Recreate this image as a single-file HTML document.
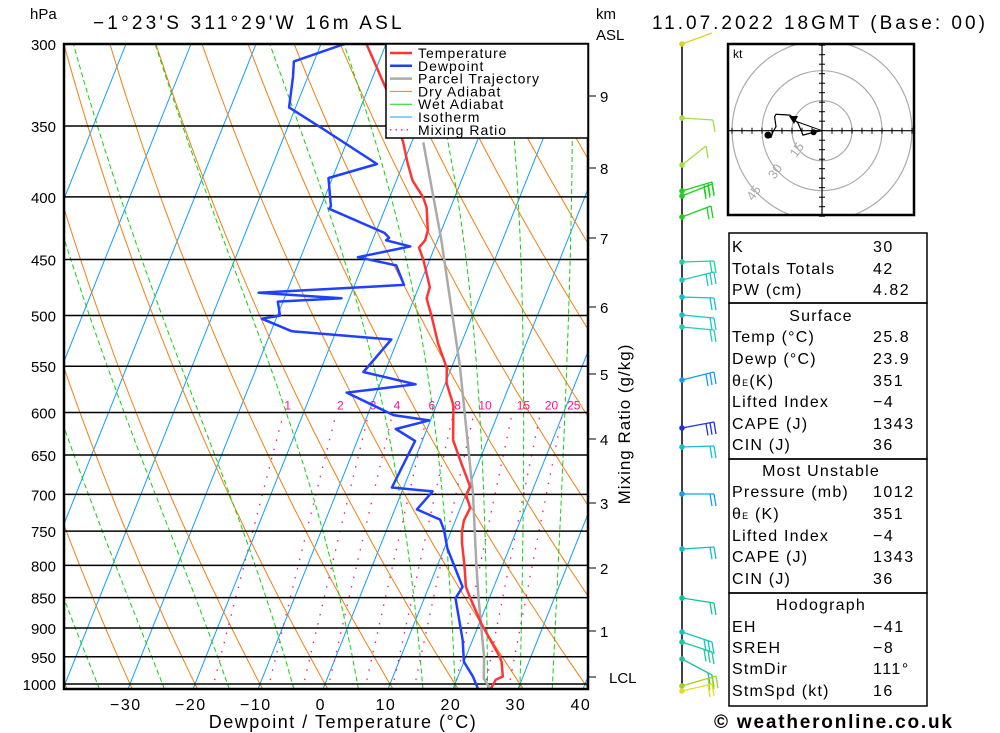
<!DOCTYPE html>
<html><head><meta charset="utf-8"><style>
html,body{margin:0;padding:0;background:#fff}
svg{display:block;font-family:"Liberation Sans",sans-serif}
</style></head><body>
<svg id="chart" xmlns="http://www.w3.org/2000/svg" width="1000" height="733" viewBox="0 0 1000 733">
<defs><clipPath id="plotclip"><rect x="64" y="44" width="524" height="645"/></clipPath>
<clipPath id="hodoclip"><rect x="728" y="44" width="186" height="171"/></clipPath></defs>
<rect width="1000" height="733" fill="#fff"/>
<g id="grid" clip-path="url(#plotclip)"></g>
<g id="profiles" clip-path="url(#plotclip)"></g>
<g id="axes"></g>
<text x="30" y="19" font-size="15">hPa</text>
<text x="93" y="29" font-size="19" letter-spacing="3.2">−1°23'S 311°29'W 16m ASL</text>
<text x="596" y="19" font-size="15">km</text>
<text x="596" y="40" font-size="15">ASL</text>
<text x="652" y="29" font-size="19" letter-spacing="3">11.07.2022 18GMT (Base: 00)</text>
<text x="343" y="728" font-size="18" text-anchor="middle" letter-spacing="1.5">Dewpoint / Temperature (°C)</text>
<text transform="translate(630,424) rotate(-90)" font-size="17" text-anchor="middle" letter-spacing="1">Mixing Ratio (g/kg)</text>
<g id="legend">
<rect x="386" y="44" width="202" height="94" fill="#fff" stroke="#000" stroke-width="1.5"/>
</g>
<g id="barbs"></g>
<g id="hodo"></g>
<g id="tables"></g>
<text x="714" y="728" font-size="19" font-weight="bold" letter-spacing="1.8">© weatheronline.co.uk</text>
</svg>
<script>
// ---- data ----
const pressureTicks=[300,350,400,450,500,550,600,650,700,750,800,850,900,950,1000];
const tempTicks=[-30,-20,-10,0,10,20,30,40];
const kmTicks=[1,2,3,4,5,6,7,8,9];
const kmY=[631,568,503,439,374,307,238,168,96];
const mixRatios=[1,2,3,4,6,8,10,15,20,25];
const tempP=[300,327,361,375,388,400,408,426,434,440,450,474,484,501,527,552,568,592,632,656,690,701,718,735,751,767,799,833,851,892,950,959,986,992,1010];
const tempT=[-33,-27.1,-21.3,-19.4,-17.5,-14.9,-13.7,-12.1,-11.9,-12.4,-11,-8.3,-8.1,-6.2,-3.55,-0.7,0.2,2.6,4.7,7,10.2,10.1,11.5,11.3,11.7,12.4,14.1,15.7,17.1,20.3,25.2,25.8,26.9,26,25.8];
const dewP=[300,310,319,338,351,376,386,407,409,428,432,434,439,448,455,472,479,484,487,500,503,515,523,556,569,578,603,609,619,633,691,696,720,734,748,775,833,851,921,959,986,1010];
const dewT=[-36.4,-43.1,-42.3,-41,-34.9,-24,-30.6,-28.5,-28.6,-18.6,-17.6,-17.9,-13.8,-21.2,-14.8,-12.4,-34.3,-21.2,-30.8,-29.6,-32.2,-26.8,-11,-13.3,-4.5,-14.6,-6,-0.2,-4.8,-1.1,-1.8,4.7,3.4,7.6,8.8,10.5,15.2,14.8,18.5,20,22.3,23.9];
const parcelP=[1010,990,950,900,850,800,700,550,434,361];
const parcelT=[25.8,24.1,22.8,20.6,18.3,16,11.1,1.2,-9.4,-18.2];
const hodoU=[0,-4.2,-9.5,-10.2,-12,-13.5,-16,-23,-23.7,-23,-24.5,-25.5,-27];
const hodoV=[0,-0.8,-2.2,-0.5,3.8,5.3,7.8,8.2,7,2,-0.5,-3.3,-2.2];
// ---- scales ----
const X0=325,PX=6.5,SK=0.4,Y1000=684,KY=531.6;
function yP(p){return 44+Math.log(p/300)*KY;}
function xT(T,p){return X0+PX*T+SK*(Y1000-yP(p));}
const NS="http://www.w3.org/2000/svg";
function mk(parent,tag,attrs){const e=document.createElementNS(NS,tag);for(const k in attrs)e.setAttribute(k,attrs[k]);parent.appendChild(e);return e;}
function pts(arr){return arr.map(a=>a[0].toFixed(1)+","+a[1].toFixed(1)).join(" ");}
const grid=document.getElementById('grid'),prof=document.getElementById('profiles'),axes=document.getElementById('axes');
for(let T=-120;T<=40;T+=10){
 const l=mk(grid,'line',{x1:xT(T,1010),y1:yP(1010),x2:xT(T,300),y2:yP(300),stroke:'#10a0ff','stroke-width':1});
 
 
}
for(let th=-40;th<=160;th+=10){
 const a=[];for(let p=1010;p>=300;p-=10){const T=(th+273.15)*Math.pow(p/1000,0.286)-273.15;a.push([xT(T,p),yP(p)]);}
 const l=mk(grid,'polyline',{points:pts(a),fill:'none',stroke:'#f08010','stroke-width':1});
 
 
}
function es(T){return 6.112*Math.exp(17.67*T/(T+243.5));}
function ws(T,p){const e=es(T);return 0.622*e/(p-e);}
const wetStarts=[-35,-25,-15,-5,5,15,20,25,30,35];
wetStarts.forEach(T0=>{
 let T=T0,a=[];
 for(let p=1000;p<1010;p+=1){const Tk=T+273.15,r=ws(T,p);const d=(287*Tk+2.5e6*r)/(1004+2.5e6*2.5e6*r*0.622/(287*Tk*Tk))/p;T+=d;}
 for(let p=1010;p>=300;p-=2){a.push([xT(T,p),yP(p)]);const Tk=T+273.15,r=ws(T,p);const d=(287*Tk+2.5e6*r)/(1004+2.5e6*2.5e6*r*0.622/(287*Tk*Tk))/p;T-=d*2;}
 const l=mk(grid,'polyline',{points:pts(a),fill:'none',stroke:'#10d010','stroke-width':1,'stroke-dasharray':'5,3'});
 
 
});
function tdFromW(w,p){const e=w*p/(622+w);const L=Math.log(e/6.112);return 243.5*L/(17.67-L);}
mixRatios.forEach(w=>{
 const a=[];for(let p=1010;p>=600;p-=10)a.push([xT(tdFromW(w,p),p),yP(p)]);
 const l=mk(grid,'polyline',{points:pts(a),fill:'none',stroke:'#ff1090','stroke-width':1.3,'stroke-dasharray':'1.5,8'});
 
 
 const t=mk(grid,'text',{x:xT(tdFromW(w,600),600)+(w>=10?11:4),y:yP(600)-3,'font-size':12,fill:'#ff1090','text-anchor':'middle'});
 t.textContent=w;
 
 
});
pressureTicks.forEach(p=>{
 const l=mk(grid,'line',{x1:64,x2:588,y1:yP(p),y2:yP(p),stroke:'#000','stroke-width':1.5});
 
 
 const t=mk(axes,'text',{x:56,y:yP(p)+6,'font-size':15,'text-anchor':'end'});
 t.textContent=p;
 
 
});
tempTicks.forEach(T=>{
 const t=mk(axes,'text',{x:xT(T,1010)-2,y:710,'font-size':16,'text-anchor':'middle','letter-spacing':1.5});
 t.textContent=(T<0?'−':'')+Math.abs(T);
 
 
});
kmTicks.forEach((k,i)=>{
 mk(axes,'line',{x1:588,x2:596,y1:kmY[i],y2:kmY[i],stroke:'#000','stroke-width':1});
 const t=mk(axes,'text',{x:600,y:kmY[i]+6,'font-size':15});
 t.textContent=k;
 
 
});
mk(axes,'line',{x1:588,x2:596,y1:677,y2:677,stroke:'#000'});
const lcl=mk(axes,'text',{x:609,y:683,'font-size':15});lcl.textContent='LCL';


function prof_line(P,T,color,name){
 const l=mk(prof,'polyline',{points:pts(P.map((p,i)=>[xT(T[i],p),yP(p)])),fill:'none',stroke:color,'stroke-width':2.5,'stroke-linejoin':'round'});
 
 
}
prof_line(parcelP,parcelT,'#aaaaaa','parcel-trajectory-line');
prof_line(tempP,tempT,'#ff3535','temperature-line');
prof_line(dewP,dewT,'#2040ff','dewpoint-line');
const fr=mk(axes,'rect',{x:64,y:44,width:524,height:645,fill:'none',stroke:'#000','stroke-width':2.5});


const leg=document.getElementById('legend');
const legItems=[['Temperature','#ff3535',2.5,''],['Dewpoint','#2040ff',2.5,''],['Parcel Trajectory','#aaaaaa',2.5,''],['Dry Adiabat','#f08010',1,''],['Wet Adiabat','#10d010',1,''],['Isotherm','#10a0ff',1,''],['Mixing Ratio','#ff1090',1.3,'1.5,4']];
legItems.forEach((it,i)=>{
 const y=53+i*12.8;
 mk(leg,'line',{x1:390,x2:412,y1:y,y2:y,stroke:it[1],'stroke-width':it[2],'stroke-dasharray':it[3]||'none'});
 const t=mk(leg,'text',{x:418,y:y+5,'font-size':14,'letter-spacing':1});
 t.textContent=it[0];
 
 
});
const bg=document.getElementById('barbs');
mk(bg,'line',{x1:682,x2:682,y1:44,y2:692,stroke:'#000','stroke-width':1.5});
const barbs=[[44,712,33,0,'#e0d020'],[118,713,120,1,'#a0e040'],[165,706,146,1,'#a0e040'],[191,712,182,3,'#20d020'],[196,712,184,3,'#20d020'],[217,711,206,2,'#20d020'],[262,714,261,2,'#20d0a0'],[280,714,272,3,'#20c8c0'],[297,714,298,2,'#10c0d0'],[315,714,318,2,'#10c8c8'],[327,714,330,2,'#20d0b0'],[380,714,372,3,'#10a0f0'],[428,714,422,3,'#2030f0'],[447,714,446,2,'#10c0d0'],[494,714,494,2,'#10a0f0'],[549,714,547,2,'#10c0c0'],[598,714,603,2,'#10c0a0'],[632,712,642,3,'#10c8c0'],[642,712,652,3,'#20c8a0'],[659,712,675,2,'#20c0a0'],[686,716,676,3,'#a0d020'],[691,712,684,2,'#e0e020']];
barbs.forEach(b=>{
 const g=mk(bg,'g',{});
 
 
 mk(g,'circle',{cx:682,cy:b[0],r:2.8,fill:b[4]});
 mk(g,'line',{x1:682,y1:b[0],x2:b[1],y2:b[2],stroke:b[4],'stroke-width':1.3});
 for(let i=0;i<b[3];i++){const x=b[1]-i*4,y=b[2]+(b[0]-b[2])*i*4/(b[1]-682);mk(g,'line',{x1:x,y1:y,x2:x+2,y2:y+12,stroke:b[4],'stroke-width':1.3});}
});
const hg=document.getElementById('hodo');
const HX=822,HY=130.7,HS=2;
const hc=mk(hg,'g',{'clip-path':'url(#hodoclip)'});
[15,30,45].forEach(r=>{mk(hc,'circle',{cx:HX,cy:HY,r:r*HS,fill:'none',stroke:'#aaa','stroke-width':1.2});});
mk(hg,'line',{x1:728,x2:914,y1:HY,y2:HY,stroke:'#000','stroke-width':1.2});
mk(hg,'line',{x1:HX,x2:HX,y1:44,y2:215,stroke:'#000','stroke-width':1.2});
for(let k=-45;k<=45;k+=5){if(k===0)continue;mk(hg,'line',{x1:HX+k*HS,x2:HX+k*HS,y1:HY-3,y2:HY+3,stroke:'#000'});mk(hg,'line',{x1:HX-3,x2:HX+3,y1:HY+k*HS*0.95,y2:HY+k*HS*0.95,stroke:'#000'});}
[15,30,45].forEach(r=>{const t=mk(hg,'text',{transform:`translate(${HX-r*HS*0.72},${HY+r*HS*0.72}) rotate(-55)`,'font-size':13,fill:'#aaa','text-anchor':'middle'});t.textContent=r;
 
 });
const hp=mk(hg,'polyline',{points:pts(hodoU.map((u,i)=>[HX+u*HS,HY-hodoV[i]*HS])),fill:'none',stroke:'#000','stroke-width':1.2});


mk(hg,'circle',{cx:HX+hodoU[1]*HS,cy:HY-hodoV[1]*HS,r:3,fill:'#000'});
mk(hg,'circle',{cx:HX+hodoU[12]*HS,cy:HY-hodoV[12]*HS,r:3.5,fill:'#000'});
mk(hg,'line',{x1:795,y1:121,x2:822,y2:130.7,stroke:'#000'});
mk(hg,'polygon',{points:'789,116 798,116 794,124',fill:'#000'});
mk(hg,'rect',{x:728,y:44,width:186,height:171,fill:'none',stroke:'#000','stroke-width':2.5});
const kt=mk(hg,'text',{x:733,y:58,'font-size':12});kt.textContent='kt';
const tb=document.getElementById('tables');
[[233,303],[303,459],[459,593],[593,706]].forEach(r=>{const b=mk(tb,'rect',{x:729,y:r[0],width:198,height:r[1]-r[0],fill:'none',stroke:'#000','stroke-width':1.5});
 
 });
const rows=[[252,'K','30'],[274,'Totals Totals','42'],[295,'PW (cm)','4.82'],[321,'Surface',null],[342,'Temp (°C)','25.8'],[364,'Dewp (°C)','23.9'],[386,'θ<tspan font-size="9">E</tspan>(K)','351'],[407,'Lifted Index','−4'],[429,'CAPE (J)','1343'],[450,'CIN (J)','36'],[476,'Most Unstable',null],[497,'Pressure (mb)','1012'],[519,'θ<tspan font-size="9">E</tspan> (K)','351'],[541,'Lifted Index','−4'],[562,'CAPE (J)','1343'],[584,'CIN (J)','36'],[610,'Hodograph',null],[632,'EH','−41'],[653,'SREH','−8'],[674,'StmDir','111°'],[696,'StmSpd (kt)','16']];
rows.forEach(r=>{
 if(r[2]===null){const t=mk(tb,'text',{x:821,y:r[0],'font-size':16,'text-anchor':'middle','letter-spacing':1.2});t.innerHTML=r[1];
  
  return;}
 const a=mk(tb,'text',{x:732,y:r[0],'font-size':16,'letter-spacing':1.2});a.innerHTML=r[1];
 
 
 const b=mk(tb,'text',{x:873,y:r[0],'font-size':16,'letter-spacing':1.5});b.textContent=r[2];
 
 
});
</script>
</body></html>
